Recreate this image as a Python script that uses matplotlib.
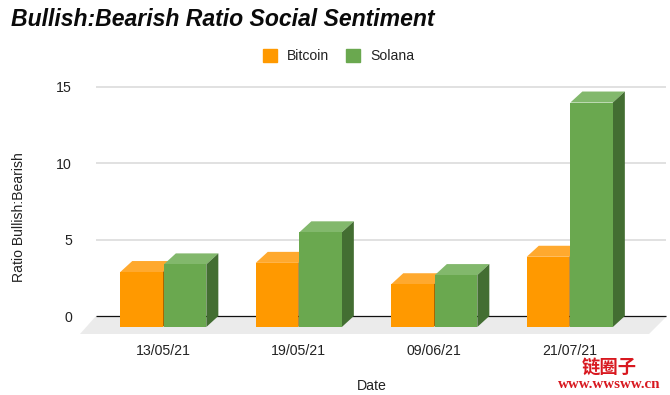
import matplotlib
matplotlib.use("Agg")
import matplotlib.pyplot as plt
from matplotlib.patches import Patch, Polygon

plt.rcParams["font.family"] = ["Liberation Sans", "DejaVu Sans"]

dates = ["13/05/21", "19/05/21", "09/06/21", "21/07/21"]
bitcoin = [3.6, 4.2, 2.8, 4.6]
solana = [4.1, 6.2, 3.4, 14.7]
yticks = [0, 5, 10, 15]

W, H = 670, 395
PX_X = 135.5
PX_Y = 15.27
X0 = 163.3
Y0 = 316

orange = ("#ff9900", "#ffa92e", "#a96600")
green = ("#6aa84f", "#82b86c", "#436e32")
bar_w = 42.5 / PX_X
dx = 12 / PX_X
dy = 11 / PX_Y


def px_x(p):
    return (p - X0) / PX_X


def px_y(p):
    return (Y0 - p) / PX_Y


fig = plt.figure(figsize=(W / 100, H / 100), dpi=100)
left, right, top, bottom = 72, 670, 70, 340
ax = fig.add_axes([left / W, 1 - bottom / H, (right - left) / W, (bottom - top) / H])
ax.set_xlim(px_x(left), px_x(right))
ax.set_ylim(px_y(bottom), px_y(top))
for s in ax.spines.values():
    s.set_visible(False)

# floor and grid
ax.add_patch(Polygon([(px_x(96), 0), (px_x(667), 0), (px_x(649), px_y(334)), (px_x(80), px_y(334))],
                     color="#ebebeb", lw=0, zorder=1))
ax.hlines([5, 10, 15], px_x(96), px_x(666), color="#dcdcdc", lw=1.2, zorder=1)
ax.hlines(0, px_x(96), px_x(666), color="#111111", lw=0.9, zorder=2)


def draw_bars(xs, vals, cols, z):
    for x, v in zip(xs, vals):
        top_y = v - dy
        ax.bar(x, v, width=bar_w, bottom=-dy, align="edge", color=cols[0], lw=0, zorder=z + 1)
        ax.add_patch(Polygon([(x, top_y), (x + bar_w, top_y), (x + bar_w + dx, v), (x + dx, v)],
                             color=cols[1], lw=0, zorder=z))
        ax.add_patch(Polygon([(x + bar_w, top_y), (x + bar_w + dx, v), (x + bar_w + dx, 0), (x + bar_w, -dy)],
                             color=cols[2], lw=0, zorder=z))


pos = list(range(len(dates)))
draw_bars([p - bar_w - 0.004 for p in pos], bitcoin, orange, 3)
draw_bars([p + 0.004 for p in pos], solana, green, 5)

ax.set_xticks(pos)
ax.set_xticklabels(dates)
ax.set_yticks(yticks)
ax.tick_params(axis="both", length=0, labelsize=10.2, labelcolor="#222222")
ax.tick_params(axis="x", pad=3)
ax.tick_params(axis="y", pad=0)

fig.text(11 / W, 1 - 20 / H, "Bullish:Bearish Ratio Social Sentiment", fontsize=16.6,
         fontweight="bold", fontstyle="italic", color="#0a0a0a", va="center", ha="left")
fig.text(372 / W, 1 - 386 / H, "Date", fontsize=10.2, color="#222222", ha="center", va="center")
fig.text(19.5 / W, 1 - 217 / H, "Ratio Bullish:Bearish", fontsize=10.1, color="#222222",
         rotation=90, ha="center", va="center")

handles = [Patch(color=orange[0], label="Bitcoin"), Patch(color=green[0], label="Solana")]
fig.legend(handles=handles, loc="center", bbox_to_anchor=(338.5 / W, 1 - 56 / H), ncol=2, frameon=False,
           fontsize=10.1, labelcolor="#222222", handlelength=1.0, handleheight=1.0,
           handletextpad=0.68, columnspacing=1.25)

# watermark
fig.text(609.5 / W, 1 - 367.5 / H, "链圈子", family=["Noto Sans CJK SC", "DejaVu Sans"], fontsize=13.2,
         fontweight="bold", color="#d8181f", ha="center", va="center")
fig.text(609 / W, 1 - 385 / H, "www.wwsww.cn", family=["Liberation Serif"], fontsize=10.8,
         fontweight="bold", color="#d8181f", ha="center", va="center")

fig.savefig("out.png", dpi=100)
